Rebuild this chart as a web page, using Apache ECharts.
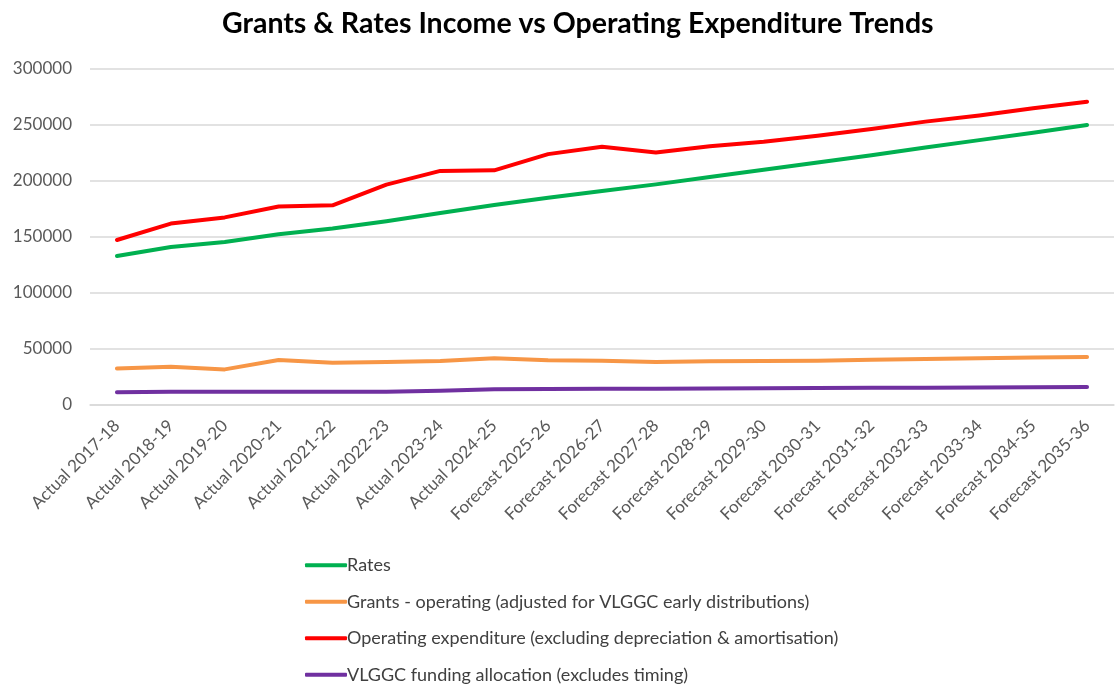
<!DOCTYPE html>
<html><head><meta charset="utf-8">
<script src="https://cdn.jsdelivr.net/npm/echarts@6/dist/echarts.min.js"></script>
<style>html,body{margin:0;padding:0;background:#fff}#c{width:1116px;height:686px}</style>
</head><body><div id="c"></div>
<script>
const categories = ["Actual 2017-18","Actual 2018-19","Actual 2019-20","Actual 2020-21","Actual 2021-22","Actual 2022-23","Actual 2023-24","Actual 2024-25","Forecast 2025-26","Forecast 2026-27","Forecast 2027-28","Forecast 2028-29","Forecast 2029-30","Forecast 2030-31","Forecast 2031-32","Forecast 2032-33","Forecast 2033-34","Forecast 2034-35","Forecast 2035-36"];
const rates = [133000,141000,145500,152500,157500,164000,171500,178500,185000,191000,197000,203500,210000,216500,223000,230000,236500,243000,250000];
const grants = [32700,34200,31800,40200,37800,38400,39300,41700,39900,39600,38400,39000,39300,39600,40500,41100,41700,42300,42900];
const opex = [147300,162000,167500,177300,178300,196800,209000,209500,224000,230500,225500,231000,235000,240500,246500,253000,258500,265000,270800];
const vlggc = [11300,11900,11900,11900,11900,11900,12800,14000,14300,14400,14600,14800,15000,15200,15400,15500,15700,15900,16100];
const seriesNames = ["Rates","Grants - operating (adjusted for VLGGC early distributions)","Operating expenditure (excluding depreciation & amortisation)","VLGGC funding allocation (excludes timing)"];
const colors = ["#00B050","#F79646","#FF0000","#7030A0"];
const yTicks = [0,50000,100000,150000,200000,250000,300000];

const chart = echarts.init(document.getElementById('c'));
const font = "Lato";
const dataSets = [rates, grants, opex, vlggc];
chart.setOption({
  animation:false,
  title:{text:"Grants & Rates Income vs Operating Expenditure Trends",left:217,top:4,
    textStyle:{fontFamily:font,fontWeight:'bold',fontSize:28.5,color:'#000'}},
  grid:{left:90,right:2,top:69,bottom:281,containLabel:false},
  legend:{orient:'vertical',left:300,top:551,height:150,icon:'roundRect',itemWidth:42,itemHeight:4,itemGap:18,
    data:seriesNames,textStyle:{fontFamily:font,fontSize:18,lineHeight:18.5,color:'#404040',padding:[0,0,0,-5]}},
  xAxis:{type:'category',data:categories,boundaryGap:true,
    axisLine:{show:true,lineStyle:{color:'#d9d9d9',width:1.5}},axisTick:{show:false},
    axisLabel:{rotate:45,interval:0,fontFamily:font,fontSize:17,color:'#595959',margin:18}},
  yAxis:{type:'value',min:yTicks[0],max:yTicks[yTicks.length-1],interval:50000,
    axisLine:{show:false},axisTick:{show:false},
    splitLine:{lineStyle:{color:'#d9d9d9',width:1.5}},
    axisLabel:{fontFamily:font,fontSize:17,color:'#595959',margin:18,formatter:v=>String(v)}},
  series: seriesNames.map((n,i)=>({name:n,type:'line',data:dataSets[i],symbol:'none',showSymbol:false,
    lineStyle:{color:colors[i],width:4,cap:'round',join:'round'},itemStyle:{color:colors[i]}}))
});
</script></body></html>
